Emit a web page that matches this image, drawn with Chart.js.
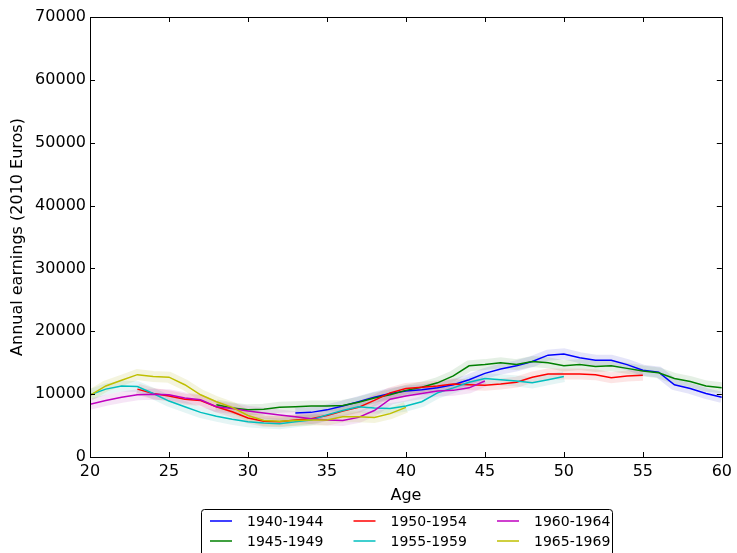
<!DOCTYPE html>
<html>
<head>
<meta charset="utf-8">
<script src="https://cdn.jsdelivr.net/npm/chart.js@4.4.1/dist/chart.umd.min.js"></script>
<style>
  html, body { margin: 0; padding: 0; background: #fff; }
</style>
</head>
<body>
<canvas id="earnings" width="737" height="553"></canvas>
<script>
// Datos: edad y ganancias anuales por cohorte
const ages = [20, 21, 22, 23, 24, 25, 26, 27, 28, 29, 30, 31, 32, 33, 34, 35, 36, 37, 38, 39, 40,
  41, 42, 43, 44, 45, 46, 47, 48, 49, 50, 51, 52, 53, 54, 55, 56, 57, 58, 59, 60];
const cohorts = ['1940-1944', '1945-1949', '1950-1954', '1955-1959', '1960-1964', '1965-1969'];
const cohortColors = ['#0000ff', '#008000', '#ff0000', '#00bfbf', '#bf00bf', '#bfbf00'];
const bandColors = ['rgba(0,0,200,0.10)', 'rgba(0,110,0,0.10)', 'rgba(230,0,0,0.10)',
  'rgba(0,160,160,0.10)', 'rgba(170,0,170,0.10)', 'rgba(170,170,0,0.13)'];

// primera edad observada de cada cohorte
const firstAge = [33, 28, 23, 20, 20, 20];

const earnings1940 = [7000, 7100, 7500, 8100, 8800, 9500, 10100, 10500, 10700, 11000, 11500, 12300,
  13300, 14000, 14500, 15200, 16200, 16400, 15800, 15400, 15400, 14700, 13800, 13500, 11500, 10900, 10100, 9500];
const earnings1945 = [8300, 7800, 7500, 7600, 7900, 8000, 8100, 8100, 8200, 8700, 9400, 9900, 10600,
  11100, 11800, 12900, 14500, 14700, 15000, 14700, 15200, 15000, 14500, 14700, 14400, 14500, 14100,
  13700, 13400, 12500, 12000, 11300, 11000];
const earnings1950 = [10800, 10100, 9700, 9200, 9000, 8000, 7200, 6200, 5700, 5600, 5900, 6100, 6600,
  7300, 7900, 9000, 10200, 10900, 11100, 11300, 11600, 11500, 11400, 11600, 11900, 12700, 13200, 13200,
  13200, 13100, 12600, 12900, 13000];
const earnings1955 = [9900, 10800, 11300, 11200, 10100, 8900, 8000, 7100, 6500, 6000, 5600, 5400, 5300,
  5600, 5900, 6700, 7400, 8000, 7800, 7700, 8100, 8800, 10200, 11000, 11900, 12500, 12300, 12100, 11800,
  12300, 12800];
const earnings1960 = [8400, 9000, 9500, 9900, 10000, 9900, 9400, 9100, 8000, 7700, 7300, 7000, 6700,
  6400, 6100, 5900, 5800, 6300, 7400, 9200, 9700, 10100, 10500, 10600, 11000, 12100];
const earnings1965 = [9800, 11300, 12200, 13100, 12800, 12700, 11500, 9900, 8800, 7900, 6600, 5800,
  5700, 5800, 5900, 5900, 6400, 6400, 6300, 6900, 7900];

const allEarnings = [earnings1940, earnings1945, earnings1950, earnings1955, earnings1960, earnings1965];

const xTicks = { min: 20, max: 60, step: 5 };
const yTicks = { min: 0, max: 70000, step: 10000 };

function toPoints(start, values) {
  return values.map((v, i) => ({ x: ages[ages.indexOf(start) + i], y: v }));
}

const datasets = [];
// bandas de confianza (trazo ancho translúcido) detrás
allEarnings.forEach((vals, i) => {
  datasets.push({
    label: '',
    data: toPoints(firstAge[i], vals),
    borderColor: bandColors[i],
    borderWidth: 11,
    pointRadius: 0,
    tension: 0,
    order: 100 - i,
  });
});
// líneas
allEarnings.forEach((vals, i) => {
  datasets.push({
    label: cohorts[i],
    data: toPoints(firstAge[i], vals),
    borderColor: cohortColors[i],
    borderWidth: 1.5,
    pointRadius: 0,
    tension: 0,
    order: 10 - i,
  });
});

// marco y ticks hacia dentro, estilo matplotlib
const frameTicks = {
  id: 'frameTicks',
  afterDatasetsDraw(chart) {
    const { ctx, chartArea: a, scales } = chart;
    ctx.save();
    ctx.strokeStyle = '#000';
    ctx.lineWidth = 1;
    ctx.strokeRect(Math.round(a.left) + 0.5, Math.round(a.top) + 0.5,
      Math.round(a.right - a.left), Math.round(a.bottom - a.top));
    const len = 5;
    ctx.beginPath();
    scales.x.ticks.forEach(t => {
      const px = Math.round(scales.x.getPixelForValue(t.value)) + 0.5;
      ctx.moveTo(px, a.bottom); ctx.lineTo(px, a.bottom - len);
      ctx.moveTo(px, a.top); ctx.lineTo(px, a.top + len);
    });
    scales.y.ticks.forEach(t => {
      const py = Math.round(scales.y.getPixelForValue(t.value)) + 0.5;
      ctx.moveTo(a.left, py); ctx.lineTo(a.left + len, py);
      ctx.moveTo(a.right, py); ctx.lineTo(a.right - len, py);
    });
    ctx.stroke();
    ctx.restore();
  }
};

// leyenda en 3 columnas, orden por columnas
const legendBox = {
  id: 'legendBox',
  afterDraw(chart) {
    const ctx = chart.ctx;
    ctx.save();
    ctx.fillStyle = '#fff';
    ctx.strokeStyle = '#000';
    ctx.lineWidth = 1;
    ctx.beginPath();
    ctx.roundRect(201.5, 509.5, 411, 60, 3);
    ctx.fill();
    ctx.stroke();
    ctx.font = '14px "DejaVu Sans"';
    ctx.textBaseline = 'middle';
    ctx.textAlign = 'left';
    cohorts.forEach((name, i) => {
      const col = Math.floor(i / 2), row = i % 2;
      const x = 210 + col * 143.5, y = 521 + row * 20;
      ctx.strokeStyle = cohortColors[i];
      ctx.lineWidth = 1.5;
      ctx.beginPath();
      ctx.moveTo(x, y); ctx.lineTo(x + 22, y);
      ctx.stroke();
      ctx.fillStyle = '#000';
      ctx.fillText(name, x + 37, y + 1);
    });
    ctx.restore();
  }
};

const tickFont = { family: 'DejaVu Sans', size: 16 };

new Chart(document.getElementById('earnings').getContext('2d'), {
  type: 'line',
  data: { datasets },
  options: {
    responsive: false,
    animation: false,
    events: [],
    layout: { padding: { top: 17, right: 14, bottom: 36, left: 0 } },
    plugins: { legend: { display: false }, tooltip: { enabled: false } },
    scales: {
      x: {
        type: 'linear',
        min: xTicks.min,
        max: xTicks.max,
        grid: { display: false, drawTicks: false },
        border: { display: false },
        ticks: { stepSize: xTicks.step, color: '#000', font: tickFont, padding: 5,
          maxRotation: 0, callback: v => String(v) },
        title: { display: true, text: 'Age', color: '#000', font: tickFont, padding: { top: 0, bottom: 12 } },
        afterFit: s => { s.height = 60; },
      },
      y: {
        min: yTicks.min,
        max: yTicks.max,
        grid: { display: false, drawTicks: false },
        border: { display: false },
        ticks: { stepSize: yTicks.step, color: '#000', font: tickFont, padding: 4,
          callback: v => String(v) },
        title: { display: true, text: 'Annual earnings (2010 Euros)', color: '#000', font: tickFont,
          padding: { top: 8, bottom: 0 } },
        afterFit: s => { s.width = 90; },
      },
    },
  },
  plugins: [frameTicks, legendBox],
});
</script>
</body>
</html>
